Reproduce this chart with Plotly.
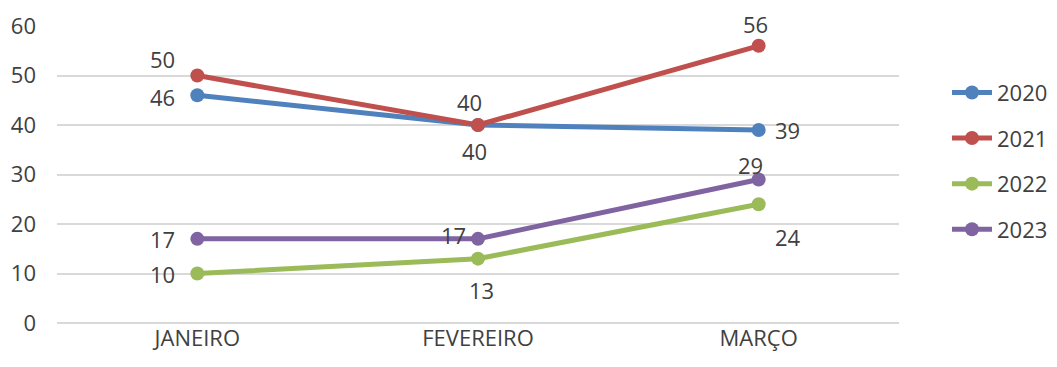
import plotly.graph_objects as go

MESES = ["JANEIRO", "FEVEREIRO", "MARÇO"]
SERIES = ["2020", "2021", "2022", "2023"]
V_2020 = [46, 40, 39]
V_2021 = [50, 40, 56]
V_2022 = [10, 13, 24]
V_2023 = [17, 17, 29]

CORES = ["#4F81BD", "#C0504D", "#9BBB59", "#8064A2"]
# deslocamento (px) de cada rótulo em relação ao seu marcador
DESLOC_ROTULOS = [
    [(-35, 2), (-4, 26), (29, 0)],
    [(-35, -17), (-9, -23), (-3, -22)],
    [(-35, 0), (3, 31), (29, 33)],
    [(-35, 0), (-25, -4), (-8, -14)],
]
FONTE = "Open Sans, Noto Sans, sans-serif"
COR_TEXTO = "#404040"
TAM = 22

fig = go.Figure()
for nome, valores, cor, desloc in zip(SERIES, [V_2020, V_2021, V_2022, V_2023], CORES, DESLOC_ROTULOS):
    fig.add_trace(
        go.Scatter(
            x=MESES,
            y=valores,
            name=nome,
            legendgroup=nome,
            mode="lines+markers",
            line=dict(color=cor, width=5),
            marker=dict(color=cor, size=14),
            cliponaxis=False,
        )
    )
    for mes, v, (dx, dy) in zip(MESES, valores, desloc):
        fig.add_annotation(
            x=mes,
            y=v,
            text=str(v),
            showarrow=False,
            xanchor="center",
            yanchor="middle",
            xshift=dx,
            yshift=-dy,
            font=dict(size=TAM, color=COR_TEXTO, family=FONTE),
        )

# a página tem margem de 8px no body, por isso as margens compensam
fig.update_layout(
    width=1057,
    height=367,
    margin=dict(l=49, r=160, t=18, b=52),
    plot_bgcolor="white",
    paper_bgcolor="white",
    font=dict(family=FONTE, size=TAM, color=COR_TEXTO),
    xaxis=dict(
        range=[-0.5, 2.5],
        automargin=False,
        showgrid=False,
        showline=False,
        ticks="",
        tickfont=dict(size=TAM, color=COR_TEXTO),
    ),
    yaxis=dict(
        range=[0, 60],
        dtick=10,
        automargin=False,
        showgrid=True,
        gridcolor="#D9D9D9",
        gridwidth=1.5,
        zeroline=True,
        zerolinecolor="#D9D9D9",
        zerolinewidth=1.5,
        ticks="",
        ticklabelstandoff=20,
        tickfont=dict(size=TAM, color=COR_TEXTO),
    ),
    legend=dict(
        x=1.057,
        y=0.545,
        xanchor="left",
        yanchor="middle",
        font=dict(size=TAM, color=COR_TEXTO),
        tracegroupgap=14,
        itemwidth=40,
    ),
    showlegend=True,
)

fig.write_html("out.html")
